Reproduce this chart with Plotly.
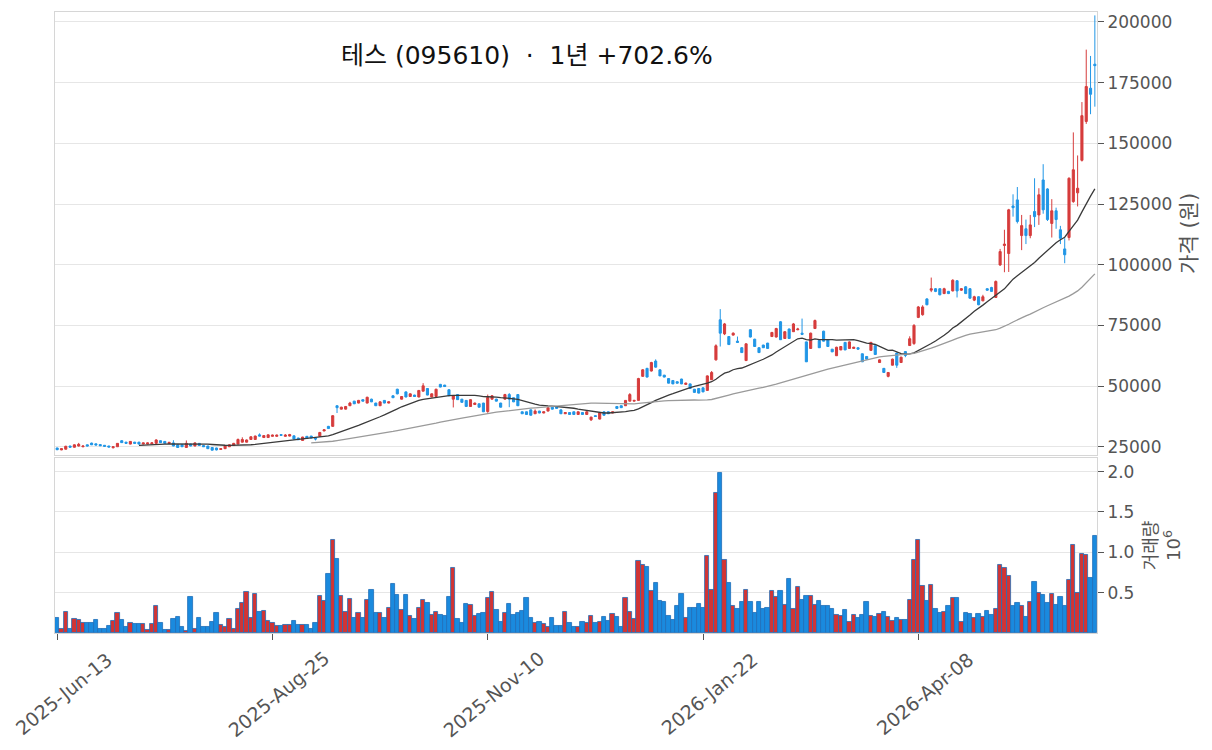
import pandas as pd
import plotly.graph_objects as go
from plotly.subplots import make_subplots

# ---------------- data (prices in thousand KRW, volume in millions) ----------------
start_date = "2025-06-13"
n_days = 242
krx_holidays = ["2025-08-15", "2025-10-03", "2025-10-06", "2025-10-07", "2025-10-08",
                "2025-10-09", "2025-12-25", "2025-12-31", "2026-01-01", "2026-02-16",
                "2026-02-17", "2026-02-18", "2026-03-02", "2026-05-01", "2026-05-05",
                "2026-05-25"]
tick_labels = ["2025-Jun-13", "2025-Aug-25", "2025-Nov-10", "2026-Jan-22", "2026-Apr-08"]

open_k = [24.5,23.7,24.0,25.3,24.8,25.3,25.0,25.8,26.5,26.2,25.9,25.6,25.3,24.6,25.0,27.5,26.9,26.1,26.9,26.9,
          26.1,26.1,26.2,26.4,27.5,27.2,26.4,26.6,25.8,25.8,24.7,26.1,25.3,26.4,25.5,25.3,24.7,24.5,23.9,24.2,
          25.0,25.5,26.1,26.9,26.9,28.0,28.0,29.9,28.8,28.8,
          29.3,29.3,30.0,29.3,29.4,29.5,28.6,27.6,29.3,29.4,28.6,29.3,31.5,33.4,33.4,41.9,40.5,40.5,41.9,43.8,
          43.0,44.4,43.0,44.6,43.0,41.9,44.1,43.0,46.0,48.7,44.6,47.6,45.7,46.3,45.5,47.9,49.0,45.5,45.7,50.7,
          50.4,48.5,44.6,46.5,44.6,44.1,41.6,42.4,42.7,43.0,
          39.5,44.6,44.6,43.0,44.6,46.5,45.2,46.5,39.4,39.4,40.2,38.6,39.7,38.9,39.7,41.3,41.6,40.2,38.6,39.1,
          39.4,38.3,39.1,38.3,36.1,37.8,36.4,39.4,39.4,38.9,41.6,41.9,41.9,43.8,43.8,44.1,54.0,57.3,56.2,60.3,
          56.7,54.5,53.1,52.3,51.8,52.9,50.7,50.9,48.7,49.0,
          49.3,48.2,52.6,60.8,77.3,71.5,70.4,71.0,68.5,65.8,60.5,73.2,69.3,65.8,66.9,67.7,70.4,70.2,76.5,69.6,
          73.5,72.4,73.2,71.8,68.2,65.5,73.7,68.8,72.6,69.1,65.2,62.5,64.9,68.0,65.5,65.5,65.8,63.3,62.2,64.7,
          66.6,59.7,57.3,54.0,58.6,63.6,59.7,64.2,66.7,67.5,
          78.3,79.4,85.9,89.5,90.1,90.1,88.1,89.0,89.2,93.4,89.5,90.9,90.1,85.4,86.8,85.1,90.1,90.6,86.5,99.9,
          107.9,104.6,124.2,126.7,112.0,114.8,112.0,121.9,120.5,134.9,131.2,117.0,122.2,114.4,106.5,111.2,126.0,129.6,143.0,159.0,
          172.7,182.6]
high_k = [24.6,24.3,25.4,25.4,26.0,26.6,25.5,25.9,26.7,26.3,26.0,25.7,25.4,25.1,26.5,27.7,27.0,27.3,27.0,27.0,
          26.7,26.8,26.8,28.1,27.6,27.3,26.9,27.7,25.9,26.0,27.6,26.2,26.8,26.5,25.6,25.4,24.8,24.6,24.3,25.4,
          26.0,26.6,28.4,28.9,28.0,29.3,29.6,30.5,29.8,30.1,
          30.0,30.0,30.1,30.2,30.3,29.6,28.7,29.1,29.4,29.5,28.7,31.1,32.2,33.6,38.0,42.0,41.5,41.8,43.5,43.9,
          44.3,44.5,45.6,44.8,43.1,43.7,44.2,43.7,46.2,48.9,45.9,47.8,47.0,46.4,48.4,51.2,49.2,47.0,48.9,50.9,
          50.5,48.6,46.2,46.6,44.7,44.2,44.6,43.2,42.8,43.1,
          46.5,46.3,44.8,43.1,46.8,47.1,45.3,46.6,39.5,39.5,40.3,40.4,39.8,39.6,41.3,41.4,41.7,40.3,39.3,39.2,
          39.5,39.5,39.2,39.6,37.4,37.9,39.0,39.5,39.5,39.5,41.7,42.0,44.2,47.1,44.3,53.4,57.0,57.5,60.0,61.0,
          56.8,54.6,53.2,52.4,51.9,53.0,51.4,51.0,48.8,49.2,
          49.4,54.4,56.2,67.2,81.7,76.0,70.6,72.1,70.4,66.0,67.6,73.5,69.5,66.0,67.0,67.8,72.3,74.0,76.8,72.6,
          73.7,76.0,74.0,77.8,68.3,72.0,77.4,69.0,72.8,69.2,65.3,66.2,66.5,68.1,68.4,66.2,65.9,63.4,62.3,68.2,
          66.7,61.0,57.4,55.8,61.3,63.7,62.1,64.4,70.5,75.5,
          83.0,83.3,86.2,94.7,90.4,90.3,90.5,89.2,94.0,93.6,90.4,91.2,90.4,87.2,87.0,87.6,90.3,90.9,93.5,106.5,
          114.4,123.0,129.0,132.0,120.5,118.6,120.5,135.6,131.5,141.4,131.5,127.0,123.5,116.0,110.9,136.0,154.5,145.0,167.0,188.6,
          186.0,202.7]
low_k = [23.6,23.6,23.9,24.7,24.7,25.1,24.8,25.2,25.7,25.6,25.3,25.1,24.8,24.3,24.9,26.6,26.3,26.0,26.3,26.0,
         26.0,26.0,26.1,26.3,26.6,26.3,26.3,25.2,24.6,24.9,24.6,25.2,25.2,25.4,24.9,24.1,23.5,23.5,23.8,24.1,
         24.9,25.4,26.0,26.8,26.8,27.9,27.9,29.3,28.7,28.7,
         29.2,29.2,29.6,29.2,29.3,28.1,27.8,27.5,28.3,28.5,27.6,29.2,31.4,32.4,33.3,38.9,40.4,40.4,41.8,42.6,
         42.9,43.7,42.9,43.4,41.8,41.8,42.9,42.9,45.1,46.6,44.5,45.4,45.6,45.6,45.4,47.8,46.2,45.4,45.6,49.5,
         49.7,45.9,41.2,44.3,43.2,41.5,41.5,42.3,41.2,39.3,
         39.0,44.5,43.7,41.2,44.5,41.3,43.4,41.8,38.5,38.2,37.9,38.5,38.8,38.8,39.6,40.4,40.7,38.5,38.5,38.2,
         38.2,38.2,38.2,38.2,35.6,37.4,36.3,37.9,38.5,38.8,40.7,41.0,41.8,43.7,43.7,44.0,53.9,53.6,56.0,57.6,
         54.1,53.6,51.1,50.8,51.1,50.8,50.6,48.9,47.3,47.0,
         47.5,48.1,52.5,60.5,66.3,71.0,67.0,70.8,67.8,63.7,60.4,70.0,66.2,63.7,65.7,65.4,70.3,70.0,69.0,69.5,
         69.5,72.3,73.0,71.0,59.9,65.4,73.6,65.7,68.4,66.2,64.0,62.4,64.8,64.8,65.4,65.4,65.1,59.9,61.0,64.6,
         62.9,59.6,55.5,53.6,58.5,57.5,59.6,61.9,66.5,67.0,
         78.0,79.0,83.3,88.7,88.7,87.4,87.9,87.9,89.0,86.5,89.2,87.9,86.0,85.0,83.3,85.0,89.3,88.8,86.3,99.5,
         96.9,97.0,119.8,117.0,106.0,108.5,110.9,115.5,116.4,121.0,118.0,111.2,114.8,108.5,100.6,110.0,125.5,124.0,142.5,158.0,
         162.0,165.1]
close_k = [23.8,24.2,25.2,24.8,25.8,26.0,25.3,25.3,25.8,25.7,25.4,25.2,24.9,25.0,26.4,26.7,26.4,27.2,26.4,26.1,
           26.6,26.6,26.6,27.8,26.7,26.4,26.8,25.3,24.7,25.0,26.4,25.3,26.6,25.5,25.0,24.2,23.6,23.7,24.2,25.3,
           25.8,26.4,28.0,28.0,27.8,29.1,29.4,29.4,29.6,29.9,
           29.8,29.8,29.7,29.8,30.0,28.2,27.9,29.0,28.4,28.6,28.2,30.9,32.0,32.5,37.8,41.1,41.3,41.6,43.0,42.7,
           44.1,43.8,45.4,43.5,41.9,43.5,43.0,43.5,45.2,46.8,45.7,45.5,46.8,45.7,48.2,50.1,46.3,46.8,48.7,49.6,
           49.8,46.0,46.0,44.4,43.3,41.6,44.4,43.0,41.3,39.4,
           45.3,46.0,43.8,41.3,46.5,44.6,43.5,41.9,38.6,38.3,38.0,39.7,38.9,39.4,41.1,40.5,40.8,38.6,39.1,38.3,
           38.3,39.4,38.3,39.4,37.2,37.5,38.9,38.0,38.6,39.4,40.8,41.1,44.1,46.5,44.1,53.1,56.7,53.7,59.7,57.8,
           54.2,53.7,51.2,50.9,51.2,50.9,51.2,49.0,47.4,47.1,
           47.6,54.2,55.6,66.6,71.8,75.6,67.1,71.8,68.0,63.8,67.4,70.2,66.3,63.8,65.8,65.5,72.1,73.7,69.1,72.4,
           69.6,75.6,73.5,71.3,60.0,71.8,77.0,65.8,68.5,66.3,64.1,66.0,66.3,64.9,68.2,66.0,65.2,60.0,61.1,68.0,
           63.0,60.8,55.6,55.6,61.1,58.6,61.9,62.6,69.5,75.0,
           82.6,82.6,83.5,90.1,89.0,87.6,90.1,88.1,93.6,89.2,90.1,88.1,86.2,86.8,83.5,86.8,89.5,89.0,93.1,105.4,
           108.5,122.6,123.5,117.8,116.1,112.0,116.4,119.8,128.8,122.6,118.6,122.2,118.6,110.9,104.1,135.6,139.1,131.5,161.4,173.4,
           170.2,182.0]
volume_m = [0.19,0.05,0.26,0.05,0.18,0.16,0.12,0.12,0.12,0.16,0.05,0.05,0.09,0.15,0.25,0.16,0.07,0.12,0.11,0.11,
            0.11,0.04,0.11,0.33,0.13,0.04,0.04,0.18,0.20,0.08,0.03,0.45,0.05,0.19,0.07,0.08,0.14,0.25,0.10,0.08,
            0.18,0.05,0.30,0.37,0.51,0.19,0.49,0.26,0.28,0.15,
            0.13,0.09,0.09,0.10,0.10,0.15,0.10,0.10,0.10,0.05,0.12,0.46,0.40,0.73,1.15,0.92,0.46,0.26,0.42,0.19,
            0.25,0.19,0.41,0.53,0.25,0.25,0.19,0.31,0.61,0.47,0.29,0.47,0.21,0.18,0.31,0.41,0.37,0.23,0.26,0.23,
            0.21,0.45,0.81,0.18,0.13,0.36,0.35,0.21,0.24,0.25,
            0.44,0.51,0.29,0.14,0.25,0.36,0.23,0.25,0.28,0.44,0.19,0.13,0.14,0.11,0.08,0.19,0.09,0.09,0.26,0.12,
            0.07,0.08,0.14,0.12,0.21,0.13,0.14,0.20,0.15,0.24,0.20,0.08,0.44,0.26,0.18,0.89,0.84,0.82,0.52,0.62,
            0.40,0.39,0.21,0.16,0.34,0.49,0.19,0.31,0.31,0.36,
            0.31,0.96,0.54,1.74,1.98,0.91,0.62,0.34,0.30,0.39,0.54,0.39,0.25,0.39,0.30,0.31,0.52,0.45,0.52,0.35,
            0.67,0.30,0.57,0.41,0.46,0.46,0.35,0.40,0.33,0.34,0.30,0.23,0.21,0.29,0.14,0.23,0.19,0.23,0.39,0.21,
            0.20,0.24,0.26,0.20,0.15,0.19,0.16,0.16,0.41,0.91,
            1.15,0.58,0.40,0.60,0.30,0.25,0.26,0.34,0.44,0.44,0.14,0.25,0.24,0.19,0.24,0.20,0.28,0.23,0.30,0.84,
            0.81,0.71,0.34,0.37,0.34,0.20,0.39,0.63,0.50,0.47,0.37,0.49,0.35,0.45,0.33,0.66,1.09,0.50,0.98,0.97,
            0.68,1.20]

# ---------------- build frame ----------------
dates = pd.bdate_range(start_date, periods=n_days + 40, freq="C", holidays=krx_holidays)[:n_days]
x = [d.strftime("%Y-%m-%d") for d in dates]
df = pd.DataFrame({"open": [v * 1000 for v in open_k], "high": [v * 1000 for v in high_k],
                   "low": [v * 1000 for v in low_k], "close": [v * 1000 for v in close_k],
                   "vol": volume_m}, index=x)
ma20 = df["close"].rolling(20).mean()
ma60 = df["close"].rolling(60).mean()

UP, DOWN = "#d63c3c", "#2096e6"
VUP, VDOWN = "#d23434", "#1a8ade"
vol_colors = [VUP if c >= o else VDOWN for o, c in zip(df["open"], df["close"])]

FONT = "DejaVu Sans, Noto Sans CJK KR"
GRID = "#e6e6e6"
FRAME = "#d6d6d6"
TXT = "#555555"
tick_font = dict(family=FONT, size=17, color=TXT)

fig = make_subplots(rows=2, cols=1, shared_xaxes=True, vertical_spacing=0.005)

fig.add_trace(go.Candlestick(x=x, open=df["open"], high=df["high"], low=df["low"], close=df["close"],
                             increasing=dict(line=dict(color=UP, width=1), fillcolor=UP),
                             decreasing=dict(line=dict(color=DOWN, width=1), fillcolor=DOWN),
                             showlegend=False, name="가격"), row=1, col=1)
fig.add_trace(go.Scatter(x=x, y=ma20, mode="lines", line=dict(color="#3a3a3a", width=1.3),
                         showlegend=False, name="MA20"), row=1, col=1)
fig.add_trace(go.Scatter(x=x, y=ma60, mode="lines", line=dict(color="#9a9a9a", width=1.3),
                         showlegend=False, name="MA60"), row=1, col=1)
fig.add_trace(go.Bar(x=x, y=df["vol"], marker=dict(color=vol_colors, line=dict(color="#1f6fb8", width=0.8)),
                     showlegend=False, name="거래량"), row=2, col=1)

fig.update_layout(
    width=1212, height=750,
    margin=dict(l=55, r=115, t=12, b=117),
    paper_bgcolor="white", plot_bgcolor="white",
    bargap=0.0,
    font=dict(family=FONT, color=TXT),
    xaxis=dict(type="category", rangeslider=dict(visible=False), showticklabels=False,
               showline=True, linecolor=FRAME, mirror=True, showgrid=False, ticks="",
               range=[-0.5, n_days - 0.5], automargin=False),
    xaxis2=dict(type="category", showline=True, linecolor=FRAME, mirror=True, showgrid=False,
                ticks="outside", ticklen=6, tickcolor=TXT,
                tickvals=x[::50], showticklabels=False,
                range=[-0.5, n_days - 0.5], automargin=False),
    yaxis=dict(domain=[0.287, 1.0], side="right", range=[21700, 204100],
               tickvals=[25000, 50000, 75000, 100000, 125000, 150000, 175000, 200000],
               tickformat="d", tickfont=tick_font, ticks="outside", ticklen=6, tickcolor=TXT,
               showgrid=True, gridcolor=GRID, showline=True, linecolor=FRAME, mirror=True,
               zeroline=False, automargin=False,
               title=dict(text="가격 (원)", font=dict(family=FONT, size=21, color=TXT), standoff=10)),
    yaxis2=dict(domain=[0.0, 0.282], side="right", range=[0, 2.17],
                tickvals=[0.5, 1.0, 1.5, 2.0], ticktext=["0.5", "1.0", "1.5", "2.0"],
                tickfont=tick_font, ticks="outside", ticklen=6, tickcolor=TXT,
                showgrid=True, gridcolor=GRID, showline=True, linecolor=FRAME, mirror=True,
                zeroline=False, automargin=False,
                title=dict(text="거래량<br>10<sup>6</sup>",
                           font=dict(family=FONT, size=18, color=TXT), standoff=10)),
)

# rotated date labels centred under their ticks
for k, lab in enumerate(tick_labels):
    fig.add_annotation(text=lab, x=x[k * 50], xref="x2", y=-0.0975, yref="paper",
                       xanchor="center", yanchor="middle", xshift=6, showarrow=False,
                       textangle=-39, font=dict(family=FONT, size=19, color=TXT))

fig.add_annotation(text="테스 (095610)  ·  1년 +702.6%", xref="paper", yref="paper",
                   x=0.453, y=0.930, xanchor="center", yanchor="middle", showarrow=False,
                   font=dict(family=FONT, size=25, color="#111111"))

fig.write_html("out.html")
